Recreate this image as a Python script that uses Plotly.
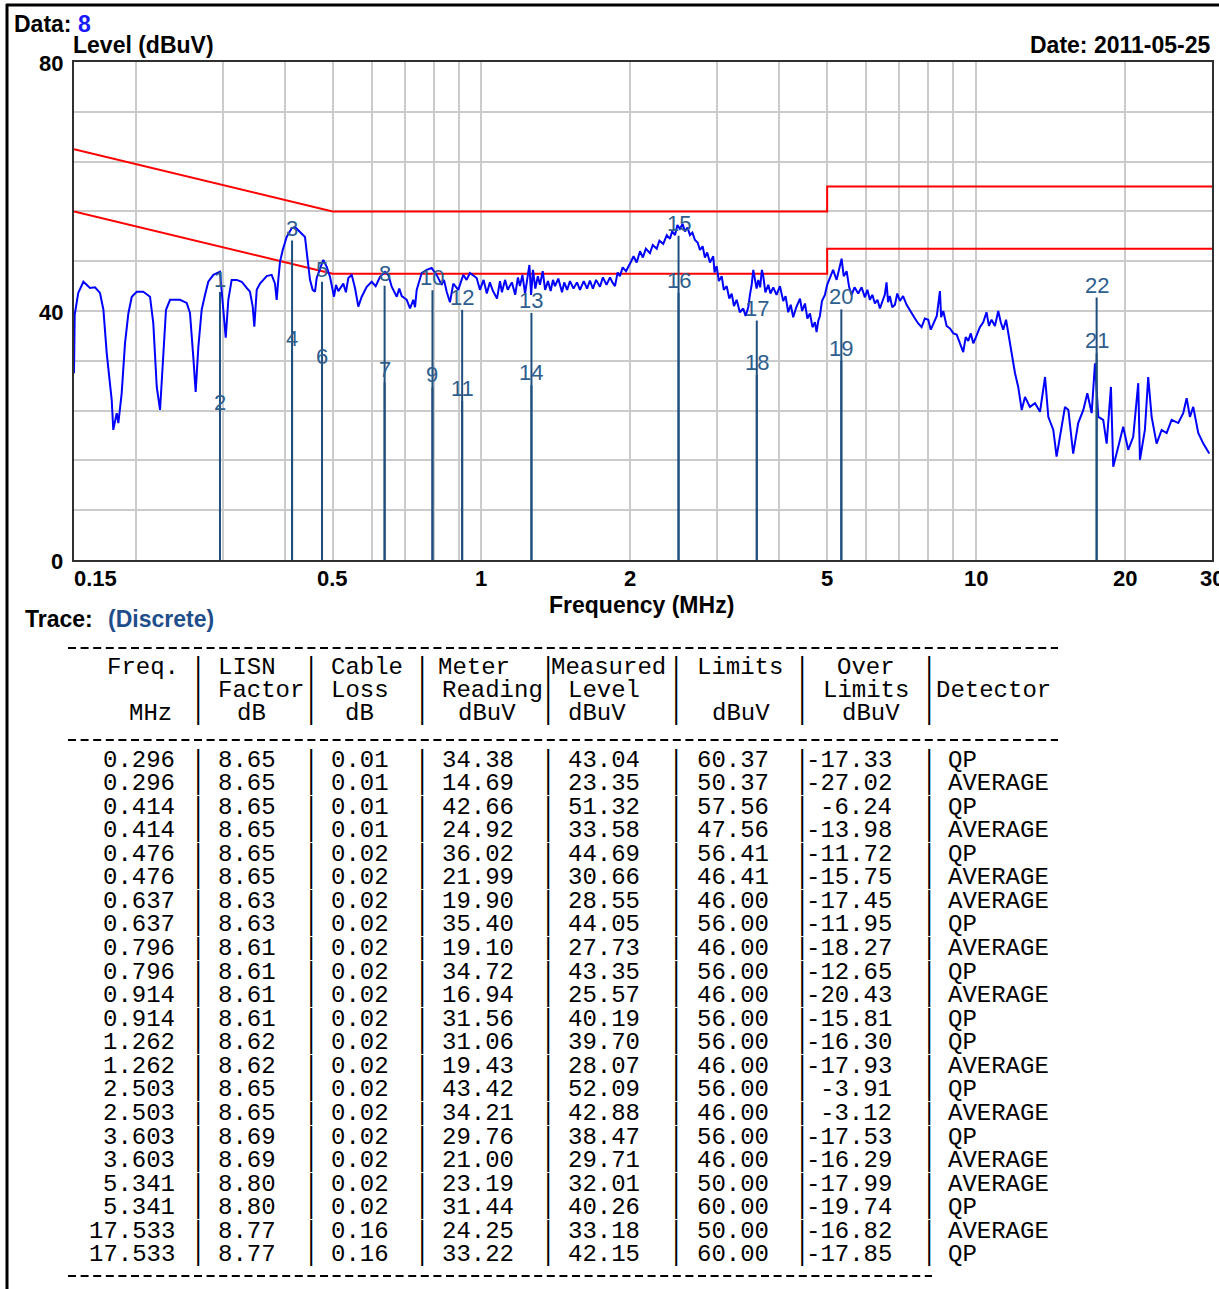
import math
import plotly.graph_objects as go

# ---------------- data ----------------
# peak list (table under the chart); markers 1..22 follow this order
FREQ_MHZ = [0.296, 0.296, 0.414, 0.414, 0.476, 0.476, 0.637, 0.637, 0.796, 0.796,
            0.914, 0.914, 1.262, 1.262, 2.503, 2.503, 3.603, 3.603, 5.341, 5.341,
            17.533, 17.533]
LISN_FACTOR_DB = [8.65, 8.65, 8.65, 8.65, 8.65, 8.65, 8.63, 8.63, 8.61, 8.61,
                  8.61, 8.61, 8.62, 8.62, 8.65, 8.65, 8.69, 8.69, 8.80, 8.80,
                  8.77, 8.77]
CABLE_LOSS_DB = [0.01, 0.01, 0.01, 0.01, 0.02, 0.02, 0.02, 0.02, 0.02, 0.02,
                 0.02, 0.02, 0.02, 0.02, 0.02, 0.02, 0.02, 0.02, 0.02, 0.02,
                 0.16, 0.16]
METER_DBUV = [34.38, 14.69, 42.66, 24.92, 36.02, 21.99, 19.90, 35.40, 19.10, 34.72,
              16.94, 31.56, 31.06, 19.43, 43.42, 34.21, 29.76, 21.00, 23.19, 31.44,
              24.25, 33.22]
LEVEL_DBUV = [43.04, 23.35, 51.32, 33.58, 44.69, 30.66, 28.55, 44.05, 27.73, 43.35,
              25.57, 40.19, 39.70, 28.07, 52.09, 42.88, 38.47, 29.71, 32.01, 40.26,
              33.18, 42.15]
LIMIT_DBUV = [60.37, 50.37, 57.56, 47.56, 56.41, 46.41, 46.00, 56.00, 46.00, 56.00,
              46.00, 56.00, 56.00, 46.00, 56.00, 46.00, 56.00, 46.00, 50.00, 60.00,
              50.00, 60.00]
OVER_DBUV = [-17.33, -27.02, -6.24, -13.98, -11.72, -15.75, -17.45, -11.95, -18.27, -12.65,
             -20.43, -15.81, -16.30, -17.93, -3.91, -3.12, -17.53, -16.29, -17.99, -19.74,
             -16.82, -17.85]
DETECTOR = ["QP", "AVERAGE", "QP", "AVERAGE", "QP", "AVERAGE", "AVERAGE", "QP",
            "AVERAGE", "QP", "AVERAGE", "QP", "QP", "AVERAGE", "QP", "AVERAGE",
            "QP", "AVERAGE", "AVERAGE", "QP", "AVERAGE", "QP"]

# limit lines (EN55022 class B)
LIMIT_FREQ = [0.15, 0.5, 5, 5, 30]
QP_LIMIT = [66, 56, 56, 60, 60]
AV_LIMIT = [56, 46, 46, 50, 50]

# scan trace, (MHz, dBuV) pairs
SCAN_LOW = [
    (0.150, 30.0), (0.1505, 39.4), (0.153, 42.9), (0.1567, 44.7), (0.1616, 43.7),
    (0.1654, 43.8), (0.1693, 42.9), (0.172, 40.2), (0.1747, 33.2), (0.1788, 25.7),
    (0.1801, 20.9), (0.183, 23.6), (0.1844, 22.0), (0.1873, 26.8), (0.1902, 34.8),
    (0.1932, 39.6), (0.1963, 42.3), (0.2009, 43.1), (0.2071, 43.1), (0.2137, 42.3),
    (0.217, 38.0), (0.2205, 27.8), (0.2239, 24.1), (0.2273, 32.6), (0.2302, 40.2),
    (0.2346, 41.8), (0.2457, 41.8), (0.2535, 41.3), (0.2574, 39.7), (0.2614, 32.6),
    (0.2643, 27.0), (0.2676, 34.2), (0.2718, 40.2), (0.2761, 42.6), (0.2803, 44.7),
    (0.287, 45.8), (0.296, 46.3), (0.3006, 40.2), (0.304, 35.7), (0.3077, 41.8),
    (0.3125, 45.0), (0.32, 45.0), (0.3274, 44.7), (0.3352, 43.7), (0.3403, 43.1),
    (0.3447, 40.7), (0.3473, 37.5), (0.3512, 43.4), (0.3566, 44.4), (0.3679, 45.6),
    (0.3765, 45.8), (0.3824, 44.4), (0.3854, 41.8), (0.3883, 45.0), (0.3914, 47.9),
    (0.3964, 49.8), (0.4037, 51.9), (0.4133, 53.3), (0.4197, 53.5), (0.4296, 52.7),
    (0.4397, 51.9), (0.4444, 48.7), (0.4501, 45.0), (0.4557, 43.4), (0.4607, 43.1),
    (0.4643, 45.3), (0.4716, 46.9), (0.4788, 48.2), (0.4865, 47.1), (0.494, 45.5),
    (0.5033, 42.3), (0.508, 44.2), (0.5135, 43.2), (0.5256, 44.4), (0.532, 43.0),
    (0.538, 45.3), (0.5466, 45.8), (0.555, 43.7), (0.5636, 40.7), (0.5726, 42.3),
    (0.5861, 43.9), (0.5999, 44.7), (0.611, 44.0), (0.6236, 45.5), (0.6383, 46.3),
    (0.6482, 45.8), (0.6584, 43.9), (0.6741, 42.3), (0.682, 43.6), (0.6899, 42.4),
    (0.7062, 41.8), (0.717, 40.4), (0.7279, 41.8), (0.734, 40.6), (0.7396, 43.4),
    (0.757, 46.1), (0.7748, 46.6), (0.793, 46.9), (0.8117, 45.8), (0.8308, 44.2),
    (0.840, 45.0), (0.8505, 43.1), (0.8636, 41.4), (0.870, 43.2), (0.877, 44.4),
    (0.8976, 43.4), (0.9188, 45.8), (0.933, 45.0), (0.9479, 46.1), (0.9779, 45.3),
]
SCAN_MID = [
    (0.993, 43.4), (1.01, 45.0), (1.025, 42.8), (1.040, 44.6), (1.055, 43.2),
    (1.075, 42.0), (1.09, 44.8), (1.10, 43.0), (1.116, 45.0), (1.13, 43.4),
    (1.152, 44.6), (1.17, 42.6), (1.185, 45.4), (1.196, 44.0), (1.21, 45.8),
    (1.225, 42.8), (1.236, 44.6), (1.25, 47.4), (1.26, 42.6), (1.271, 46.6),
    (1.285, 43.6), (1.30, 45.6), (1.313, 44.2), (1.33, 46.4), (1.345, 43.4),
    (1.363, 44.8), (1.38, 43.2), (1.395, 45.0), (1.408, 44.0), (1.43, 45.2),
    (1.455, 43.0), (1.47, 44.6), (1.49, 43.4), (1.510, 44.8), (1.535, 43.6),
    (1.560, 44.6), (1.582, 43.4), (1.61, 44.8), (1.635, 43.6), (1.657, 44.9),
    (1.68, 43.6), (1.705, 45.0), (1.736, 43.9), (1.76, 45.4), (1.79, 44.2),
    (1.819, 45.4), (1.84, 44.6), (1.862, 44.0), (1.885, 46.2), (1.905, 45.6),
    (1.93, 47.0), (1.96, 46.4), (1.996, 47.6), (2.03, 48.8), (2.06, 47.8),
    (2.092, 49.6), (2.12, 48.6), (2.15, 50.0), (2.191, 49.3), (2.22, 50.6),
    (2.261, 50.0), (2.29, 51.3), (2.331, 50.8), (2.37, 52.2), (2.405, 51.6),
    (2.43, 52.8), (2.462, 52.2), (2.49, 53.8), (2.519, 53.2), (2.55, 54.0),
    (2.579, 52.8), (2.61, 53.4), (2.640, 52.2), (2.67, 52.6), (2.702, 51.4),
    (2.735, 51.0), (2.766, 49.8), (2.80, 50.4), (2.830, 48.6), (2.86, 49.4),
    (2.897, 47.8), (2.942, 48.8), (2.96, 46.2), (2.989, 47.2), (3.02, 44.8),
    (3.060, 45.6), (3.09, 43.4), (3.132, 44.0), (3.17, 42.0), (3.206, 42.8),
    (3.24, 40.8), (3.281, 41.8), (3.33, 39.8), (3.383, 40.4), (3.42, 39.2),
    (3.463, 40.6), (3.49, 42.6), (3.518, 44.2), (3.545, 46.6), (3.573, 45.2),
    (3.60, 43.6), (3.628, 45.0), (3.66, 43.8), (3.69, 46.6), (3.714, 45.6),
    (3.75, 43.0), (3.802, 44.2), (3.84, 42.8), (3.890, 43.8), (3.95, 42.6),
    (4.013, 44.0), (4.075, 41.6), (4.12, 42.4), (4.171, 39.8), (4.22, 41.0),
    (4.269, 39.0), (4.33, 40.6), (4.406, 42.0), (4.45, 40.0), (4.509, 41.2),
    (4.56, 38.8), (4.615, 39.6), (4.67, 37.4), (4.723, 38.2), (4.76, 36.6),
    (4.797, 38.4), (4.834, 39.2), (4.88, 41.6), (4.948, 42.6), (5.00, 44.2),
    (5.064, 45.2), (5.14, 46.6), (5.225, 45.0), (5.29, 46.8), (5.348, 48.4),
    (5.40, 45.6), (5.474, 46.4), (5.54, 43.8), (5.603, 42.6), (5.68, 43.8),
    (5.778, 42.8), (5.87, 43.8), (5.961, 42.2), (6.03, 43.4), (6.101, 41.8),
    (6.17, 42.6), (6.245, 41.2), (6.32, 41.8), (6.392, 40.4),
]
SCAN_HIGH = [
    (6.47, 41.6), (6.539, 42.6), (6.592, 44.6), (6.64, 41.4), (6.694, 42.4),
    (6.77, 40.6), (6.855, 41.0), (6.93, 42.8), (7.016, 41.6), (7.12, 42.4),
    (7.239, 41.0), (7.38, 39.8), (7.525, 38.8), (7.64, 38.0), (7.762, 37.4),
    (7.88, 38.8), (8.005, 38.6), (8.10, 37.0), (8.193, 37.8), (8.33, 39.2),
    (8.453, 43.2), (8.50, 39.0), (8.585, 40.0), (8.72, 37.6), (8.857, 37.2),
    (9.00, 36.4), (9.138, 36.2), (9.28, 34.8), (9.422, 33.4), (9.53, 35.8),
    (9.645, 35.2), (9.76, 36.4), (9.872, 34.8), (10.02, 36.0), (10.18, 37.4),
    (10.34, 38.2), (10.50, 39.8), (10.62, 37.6), (10.75, 38.6), (10.92, 37.6),
    (11.09, 40.0), (11.22, 38.2), (11.35, 37.0), (11.50, 38.6), (11.62, 36.4),
    (11.72, 34.6), (11.80, 33.4), (11.99, 30.0), (12.17, 27.8), (12.37, 24.1),
    (12.56, 26.2), (12.85, 24.6), (13.16, 25.2), (13.47, 23.8), (13.79, 29.4),
    (14.00, 23.0), (14.33, 20.9), (14.55, 16.6), (14.78, 19.8), (15.13, 24.6),
    (15.37, 24.1), (15.72, 17.1), (16.09, 22.0), (16.48, 24.1), (16.79, 26.8),
    (17.13, 23.6), (17.40, 31.6), (17.67, 23.0), (18.08, 22.5), (18.37, 18.7),
    (18.74, 27.8), (18.94, 15.0), (19.39, 18.2), (19.84, 21.4), (20.31, 17.7),
    (20.79, 19.8), (21.28, 28.4), (21.45, 16.1), (21.95, 20.9), (22.29, 29.4),
    (22.65, 23.0), (23.18, 18.7), (23.73, 20.9), (24.29, 20.4), (24.86, 22.5),
    (25.64, 22.0), (26.24, 23.6), (26.66, 26.0), (27.07, 23.0), (27.49, 24.6),
    (28.14, 20.4), (28.81, 18.7), (29.62, 17.1),
]

X_GRID = [0.2, 0.3, 0.4, 0.5, 0.6, 0.7, 0.8, 0.9, 1, 2, 3, 4, 5, 6, 7, 8, 9, 10, 20]
X_LABELS = [0.15, 0.5, 1, 2, 5, 10, 20, 30]
Y_GRID = [0, 8, 16, 24, 32, 40, 48, 56, 64, 72, 80]
Y_LABELS = [0, 40, 80]

COLUMN_HEADS = [("Freq.", "", "MHz"), ("LISN", "Factor", "dB"), ("Cable", "Loss", "dB"),
                ("Meter", "Reading", "dBuV"), ("Measured", "Level", "dBuV"),
                ("Limits", "", "dBuV"), ("Over", "Limits", "dBuV"), ("", "Detector", "")]

# ---------------- page geometry (pixels) ----------------
W, H = 1219, 1289
PLOT_L, PLOT_R, PLOT_T, PLOT_B = 74, 1212, 62, 560


def px(x):
    return x / W


def py(y):
    return 1 - y / H


SANS = "Liberation Sans, Arial, sans-serif"
MONO = "Liberation Mono, Courier New, monospace"
MARK_BLUE = "#1f4f7f"


def label(x, y, text, anchor="left", size=23, color="black", bold=True, family=SANS):
    return dict(x=px(x), y=py(y), xref="paper", yref="paper", text=text,
                xanchor=anchor, yanchor="middle", showarrow=False,
                font=dict(family=family, size=size, color=color,
                          weight="bold" if bold else "normal"))


fig = go.Figure()

# limits
fig.add_trace(go.Scatter(x=LIMIT_FREQ, y=QP_LIMIT, mode="lines",
                         line=dict(color="#ff0000", width=2), hoverinfo="skip"))
fig.add_trace(go.Scatter(x=LIMIT_FREQ, y=AV_LIMIT, mode="lines",
                         line=dict(color="#ff0000", width=2), hoverinfo="skip"))

# scan
scan = SCAN_LOW + SCAN_MID + SCAN_HIGH
fig.add_trace(go.Scatter(x=[p[0] for p in scan], y=[p[1] for p in scan], mode="lines",
                         line=dict(color="#0000ff", width=2), hoverinfo="skip"))

# marker sticks
mx, my = [], []
for f, v in zip(FREQ_MHZ, LEVEL_DBUV):
    mx += [f, f, None]
    my += [0, v, None]
fig.add_trace(go.Scatter(x=mx, y=my, mode="lines",
                         line=dict(color=MARK_BLUE, width=2), hoverinfo="skip"))

annotations = []
for i, (f, v) in enumerate(zip(FREQ_MHZ, LEVEL_DBUV)):
    annotations.append(dict(x=math.log10(f), y=v, xref="x", yref="y", text=str(i + 1),
                            xanchor="center", yanchor="bottom", yshift=-2, showarrow=False,
                            font=dict(family=SANS, size=22, color="#2e5e8e")))

# axis tick labels
for t in X_LABELS:
    annotations.append(dict(x=math.log10(t), y=py(578), xref="x", yref="paper",
                            text=f"{t:g}", xanchor="left" if t == X_LABELS[0] else "center",
                            xshift=-2 if t == X_LABELS[0] else 0,
                            yanchor="middle", showarrow=False,
                            font=dict(family=SANS, size=22, color="black", weight="bold")))
for t in Y_LABELS:
    annotations.append(dict(x=px(65), y=t, xref="paper", yref="y", text=str(t),
                            xanchor="right", yanchor="middle", yshift=-1, showarrow=False,
                            font=dict(family=SANS, size=22, color="black", weight="bold")))

# titles
annotations.append(label(12, 24, "Data: <span style='color:#1a1aff'>8</span>"))
annotations.append(label(71, 45, "Level (dBuV)"))
annotations.append(label(1212, 45, "Date: 2011-05-25", anchor="right"))
annotations.append(label(641, 605, "Frequency (MHz)", anchor="center"))
annotations.append(label(23, 619, "Trace:"))
annotations.append(label(106, 619, "(Discrete)", color="#1f4e8c"))

# ---------------- table ----------------
TSIZE = 24
SEP_X = [198, 311, 422, 548, 676, 802, 929]
HEAD_Y = [667, 690, 713]
HEAD_X = [(105, None, 127), (216, 216, 235), (329, 329, 343), (436, 440, 456),
          (549, 566, 566), (695, None, 710), (835, 821, 840), (None, 934, None)]
for col, heads in enumerate(COLUMN_HEADS):
    for line, txt in enumerate(heads):
        if txt:
            annotations.append(label(HEAD_X[col][line], HEAD_Y[line], txt, size=TSIZE,
                                     bold=False, family=MONO))
for yy in HEAD_Y:
    for sx in SEP_X:
        annotations.append(label(sx, yy, "|", anchor="center", size=TSIZE, bold=False, family=MONO))

ROW_Y0, ROW_STEP = 760, 23.57
for i in range(len(FREQ_MHZ)):
    yy = ROW_Y0 + i * ROW_STEP
    cells = [(177, f"{FREQ_MHZ[i]:.3f}", "right"),
             (216, f"{LISN_FACTOR_DB[i]:.2f}", "left"),
             (329, f"{CABLE_LOSS_DB[i]:.2f}", "left"),
             (440, f"{METER_DBUV[i]:.2f}", "left"),
             (566, f"{LEVEL_DBUV[i]:.2f}", "left"),
             (695, f"{LIMIT_DBUV[i]:.2f}", "left"),
             (894, f"{OVER_DBUV[i]:.2f}", "right"),
             (946, DETECTOR[i], "left")]
    for cx, txt, anc in cells:
        annotations.append(label(cx, yy, txt, anchor=anc, size=TSIZE, bold=False, family=MONO))
    for sx in SEP_X:
        annotations.append(label(sx, yy, "|", anchor="center", size=TSIZE, bold=False, family=MONO))

shapes = [
    # outer frame (left and top edges of the page)
    dict(type="line", xref="paper", yref="paper", x0=px(7), x1=px(7), y0=py(4), y1=0,
         line=dict(color="black", width=3)),
    dict(type="line", xref="paper", yref="paper", x0=px(6), x1=1, y0=py(5), y1=py(5),
         line=dict(color="black", width=3)),
    # dashed rules of the table
    dict(type="line", xref="paper", yref="paper", x0=px(68), x1=px(1058), y0=py(648), y1=py(648),
         line=dict(color="black", width=2, dash="8px,4.6px")),
    dict(type="line", xref="paper", yref="paper", x0=px(68), x1=px(1058), y0=py(740), y1=py(740),
         line=dict(color="black", width=2, dash="8px,4.6px")),
    dict(type="line", xref="paper", yref="paper", x0=px(68), x1=px(932), y0=py(1276), y1=py(1276),
         line=dict(color="black", width=2, dash="8px,4.6px")),
]

fig.update_layout(
    width=W, height=H, autosize=False,
    margin=dict(l=0, r=0, t=0, b=0),
    paper_bgcolor="white", plot_bgcolor="white",
    showlegend=False,
    annotations=annotations,
    shapes=shapes,
)
fig.update_xaxes(type="log", range=[math.log10(0.15), math.log10(30)],
                 domain=[px(PLOT_L), px(PLOT_R)],
                 tickvals=X_GRID, showticklabels=False, ticks="",
                 showgrid=True, gridcolor="#cbcbcb", gridwidth=2,
                 showline=True, mirror=True, linecolor="#303030", linewidth=2,
                 zeroline=False, fixedrange=True)
fig.update_yaxes(range=[0, 80], domain=[py(PLOT_B), py(PLOT_T)],
                 tickvals=Y_GRID, showticklabels=False, ticks="",
                 showgrid=True, gridcolor="#cbcbcb", gridwidth=2,
                 showline=True, mirror=True, linecolor="#303030", linewidth=2,
                 zeroline=False, fixedrange=True)

# the page body has a default 8px margin; drop it so the figure sits at the window corner
fig.write_html("out.html", config={"displayModeBar": False},
               post_script="document.body.style.margin='0';")
